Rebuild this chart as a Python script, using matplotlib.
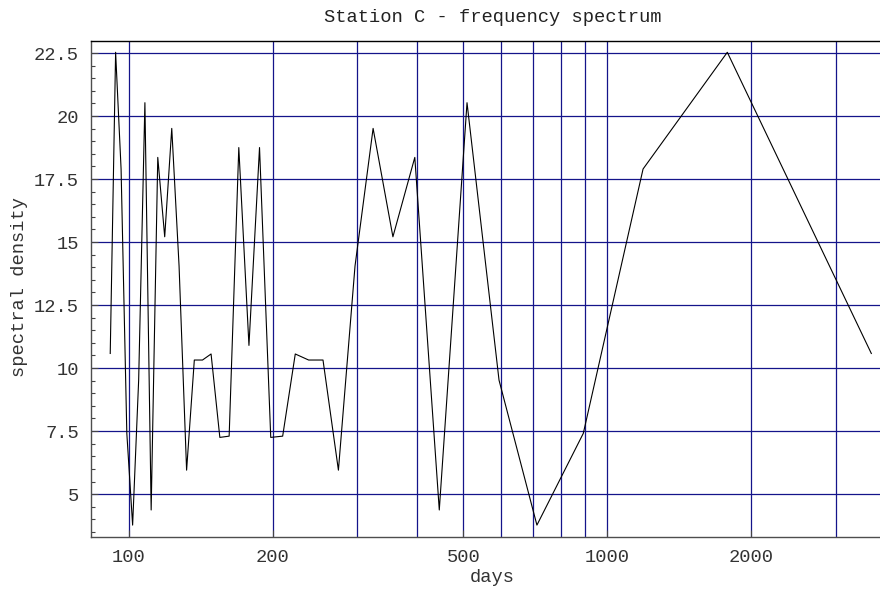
import matplotlib
matplotlib.use("Agg")
import matplotlib.pyplot as plt
from matplotlib.ticker import FixedLocator, MultipleLocator, NullLocator

# Period (days) of each spectral component, shortest to longest
days = [91.4, 93.8, 96.3, 99.0, 101.8, 104.8, 108.0, 111.3, 114.9, 118.8,
        122.9, 127.3, 132.0, 137.0, 142.5, 148.5, 154.9, 162.0, 169.7, 178.2,
        187.5, 197.9, 209.6, 222.7, 237.5, 254.5, 274.1, 296.9, 323.9, 356.3,
        395.9, 445.4, 509.0, 593.8, 712.6, 890.8, 1187.7, 1781.5, 3563.0]

# Spectral density for each period above
density = [10.58, 22.53, 17.90, 7.41, 3.77, 9.52, 20.53, 4.37, 18.36, 15.21,
           19.51, 14.05, 5.95, 10.32, 10.32, 10.56, 7.25, 7.30, 18.75, 10.90,
           18.75, 7.25, 7.30, 10.56, 10.32, 10.32, 5.95, 14.05, 19.51, 15.21,
           18.36, 4.37, 20.53, 9.52, 3.77, 7.41, 17.90, 22.53, 10.58]

x_ticks = [100, 200, 500, 1000, 2000]
x_tick_labels = ["100", "200", "500", "1000", "2000"]
x_grid = [100, 200, 300, 400, 500, 600, 700, 800, 900, 1000, 2000, 3000]
y_ticks = [5, 7.5, 10, 12.5, 15, 17.5, 20, 22.5]
y_tick_labels = ["5", "7.5", "10", "12.5", "15", "17.5", "20", "22.5"]

FONT = "Liberation Mono"
FS = 13.5
TXT = "#333333"
GRID = "#14148a"

W, H = 880, 590
fig = plt.figure(figsize=(W / 100, H / 100), dpi=100)
left, right, top, bottom = 90.7, 880.0, 40.7, 536.7
ax = fig.add_axes([left / W, 1 - bottom / H, (right - left) / W, (bottom - top) / H])

ax.set_xscale("log")
ax.set_xlim(83.2, 3715)
ax.set_ylim(3.31, 22.99)

for g in x_grid:
    ax.axvline(g, color=GRID, lw=0.9, zorder=1)
for g in y_ticks:
    ax.axhline(g, color=GRID, lw=0.9, zorder=1)

ax.plot(days, density, color="black", lw=0.8, zorder=3)

ax.xaxis.set_major_locator(FixedLocator(x_ticks))
ax.xaxis.set_minor_locator(NullLocator())
ax.set_xticklabels(x_tick_labels)
ax.yaxis.set_major_locator(FixedLocator(y_ticks))
ax.yaxis.set_minor_locator(MultipleLocator(0.5))
ax.set_yticklabels(y_tick_labels)

ax.tick_params(axis="both", which="major", direction="in", length=5, width=0.8,
               color="#444444", labelsize=FS, labelcolor=TXT)
ax.tick_params(axis="y", which="minor", direction="in", length=3, width=0.8,
               color="#444444")
ax.tick_params(axis="y", which="major", pad=8.4)
ax.tick_params(axis="x", which="major", pad=8.5)
for lab in ax.get_xticklabels() + ax.get_yticklabels():
    lab.set_fontfamily(FONT)

ax.spines["right"].set_visible(False)
ax.spines["top"].set_color("black")
ax.spines["top"].set_linewidth(1.0)
for s in ("left", "bottom"):
    ax.spines[s].set_color("#4d4d4d")
    ax.spines[s].set_linewidth(1.0)

fig.text(493 / W, 1 - 17 / H, "Station C - frequency spectrum", ha="center",
         va="center", fontsize=FS, family=FONT, color="#222222")
fig.text(492 / W, 1 - 578 / H, "days", ha="center", va="center",
         fontsize=FS, family=FONT, color=TXT)
fig.text(20 / W, 1 - 287 / H, "spectral density", ha="center", va="center",
         rotation=90, fontsize=FS, family=FONT, color=TXT)

fig.savefig("out.png", dpi=100)
